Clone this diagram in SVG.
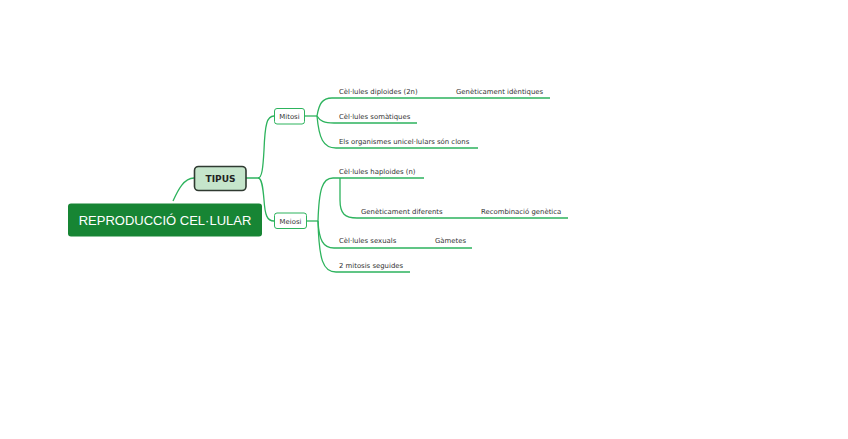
<svg xmlns="http://www.w3.org/2000/svg" width="848" height="439" viewBox="0 0 848 439">
<style>
.ln{fill:none;stroke:#2db35d;stroke-width:1.3;}
.t{font-family:"DejaVu Sans",Verdana,sans-serif;font-size:6.9px;fill:#333;}
.sub{fill:#fff;stroke:#2db35d;stroke-width:1;}
</style>
<rect width="848" height="439" fill="#fff"/>
<g id="connectors">
<path class="ln" d="M173,201 C178,190 184,178 194,178"/>
<path class="ln" d="M246,178 L258,178 C262,178 263,168 264,150 C265,124 267,116 274,116"/>
<path class="ln" d="M258,178 C262,178 263,188 264,200 C265,215 267,221 274,221"/>
<path class="ln" d="M305,116 L317,116"/>
<path class="ln" d="M317,116 C319,104 322,98 332,98 L550,98"/>
<path class="ln" d="M317,116 C320,121 324,123 334,123 L417,123"/>
<path class="ln" d="M317,116 C319,138 323,148 336,148 L478,148"/>
<path class="ln" d="M307,221 L318,221"/>
<path class="ln" d="M318,221 C319,190 322,178 333,178 L424,178"/>
<path class="ln" d="M340,178 L340,200 C340,214 345,218 357,218 L568,218"/>
<path class="ln" d="M318,221 C319,240 323,248 334,248 L472,248"/>
<path class="ln" d="M318,221 C319,260 323,272 336,272 L410,272"/>
</g>
<g id="root">
<rect x="68" y="203.5" width="194" height="33" rx="3" fill="#178534"/>
<text x="165" y="224.5" text-anchor="middle" font-family="'Liberation Sans',Arial,sans-serif" font-size="13" fill="#fff">REPRODUCCIÓ CEL·LULAR</text>
</g>
<g id="tipus">
<rect x="194.5" y="166.5" width="51.5" height="24" rx="4" fill="#c5e5cb" stroke="#2f3a31" stroke-width="1.6"/>
<text x="220.5" y="182" text-anchor="middle" font-family="'DejaVu Sans',Verdana,sans-serif" font-weight="bold" font-size="9" fill="#222">TIPUS</text>
</g>
<g id="mitosi">
<rect class="sub" x="274.5" y="108.5" width="30" height="15.5" rx="2.5"/>
<text class="t" x="289.5" y="119" text-anchor="middle">Mitosi</text>
</g>
<g id="meiosi">
<rect class="sub" x="274.5" y="213" width="32" height="15.5" rx="2.5"/>
<text class="t" x="290.5" y="223.5" text-anchor="middle">Meiosi</text>
</g>
<g id="diploides"><text class="t" x="339" y="94">Cèl·lules diploides (2n)</text></g>
<g id="identiques"><text class="t" x="456" y="94">Genèticament idèntiques</text></g>
<g id="somatiques"><text class="t" x="339" y="119">Cèl·lules somàtiques</text></g>
<g id="clons"><text class="t" x="339" y="144">Els organismes unicel·lulars són clons</text></g>
<g id="haploides"><text class="t" x="339" y="173.5">Cèl·lules haploides (n)</text></g>
<g id="diferents"><text class="t" x="361" y="213.5">Genèticament diferents</text></g>
<g id="recombinacio"><text class="t" x="481" y="213.5">Recombinació genètica</text></g>
<g id="sexuals"><text class="t" x="339" y="243">Cèl·lules sexuals</text></g>
<g id="gametes"><text class="t" x="435" y="243">Gàmetes</text></g>
<g id="mitosis2"><text class="t" x="339" y="268">2 mitosis seguides</text></g>
</svg>
